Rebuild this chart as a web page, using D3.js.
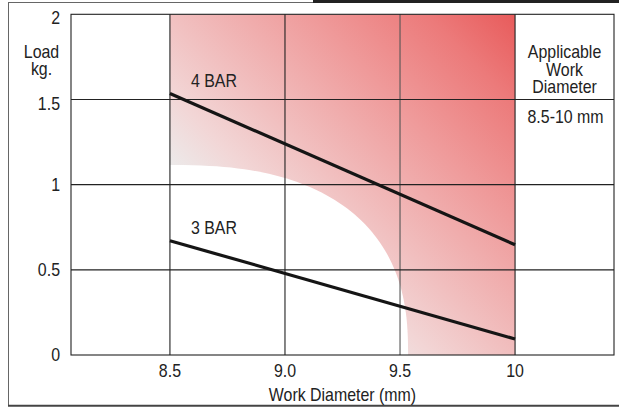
<!DOCTYPE html>
<html>
<head>
<meta charset="utf-8">
<script src="https://cdn.jsdelivr.net/npm/d3@7"></script>
<style>
  html, body { margin: 0; padding: 0; background: #fff; }
  svg { display: block; }
  text { font-family: "Liberation Sans", Arial, sans-serif; fill: #222; }
</style>
</head>
<body>
<svg id="chart" width="619" height="408"></svg>
<script>
// ---- data ----
const xTicks = [8.5, 9.0, 9.5, 10];
const xTickLabels = ["8.5", "9.0", "9.5", "10"];
const yTicks = [0, 0.5, 1, 1.5, 2];
const yTickLabels = ["0", "0.5", "1", "1.5", "2"];
const seriesNames = ["4 BAR", "3 BAR"];
const seriesX = [8.5, 10];
const bar4 = [1.535, 0.647];
const bar3 = [0.671, 0.094];
const applicableRange = [8.5, 10];
const applicableTitle = ["Applicable", "Work", "Diameter"];
const applicableValue = "8.5-10 mm";
const xTitle = "Work Diameter (mm)";
const yTitle = ["Load", "kg."];

// ---- layout ----
const W = 619, H = 408;
const svg = d3.select("#chart");
const plotL = 71, plotR = 614, plotT = 14.3, plotB = 355;
const x = d3.scaleLinear().domain([8.07, 10.43]).range([plotL, plotR]);
const y = d3.scaleLinear().domain([0, 2]).range([plotB, plotT]);
const fontSize = 17.5, squeeze = 0.91;

// condensed-looking text helper
function label(g, tx, ty, str, anchor) {
  return g.append("text")
    .attr("transform", `translate(${tx},${ty}) scale(${squeeze},1)`)
    .attr("text-anchor", anchor || "start")
    .attr("font-size", fontSize)
    .text(str);
}

// outer frame + top tab bar
svg.append("rect").attr("x", 8.5).attr("y", 2.5).attr("width", 640).attr("height", 403)
  .attr("fill", "none").attr("stroke", "#666").attr("stroke-width", 1);
svg.append("line").attr("x1", 8).attr("x2", W).attr("y1", 405.8).attr("y2", 405.8)
  .attr("stroke", "#444").attr("stroke-width", 2);
svg.append("rect").attr("x", 313).attr("y", 0).attr("width", W - 313).attr("height", 3)
  .attr("fill", "#222");

// plot background
svg.append("rect").attr("x", plotL).attr("y", plotT).attr("width", plotR - plotL).attr("height", plotB - plotT)
  .attr("fill", "#fff");

// gradient region for applicable diameter
const defs = svg.append("defs");
const grad = defs.append("linearGradient").attr("id", "rg").attr("gradientUnits", "userSpaceOnUse")
  .attr("x1", x(applicableRange[0])).attr("y1", y(0))
  .attr("x2", x(applicableRange[1])).attr("y2", y(2));
[[0, "#eeeeee"], [0.27, "#ecebeb"], [0.38, "#f2d6d6"], [0.5, "#f1bfbf"], [0.7, "#ef9a9a"], [0.87, "#ec7a7a"], [1, "#e85b5b"]]
  .forEach(([o, c]) => grad.append("stop").attr("offset", o).attr("stop-color", c));
defs.append("clipPath").attr("id", "regclip").append("rect")
  .attr("x", x(applicableRange[0])).attr("y", y(2))
  .attr("width", x(applicableRange[1]) - x(applicableRange[0])).attr("height", y(0) - y(2));

const reg = svg.append("g").attr("clip-path", "url(#regclip)");
reg.append("rect")
  .attr("x", x(applicableRange[0])).attr("y", y(2))
  .attr("width", x(applicableRange[1]) - x(applicableRange[0])).attr("height", y(0) - y(2))
  .attr("fill", "url(#rg)");
// white rounded cut-out at lower left (superellipse)
const cutRx = x(9.535) - x(8.5), cutRy = y(0) - y(1.115), n = 2.5;
const cutPts = [[0, 0]];
for (let i = 0; i <= 60; i++) {
  const t = (Math.PI / 2) * i / 60;
  const c = Math.cos(t), s = Math.sin(t);
  cutPts.push([cutRx * Math.pow(c, 2 / n), -cutRy * Math.pow(s, 2 / n)]);
}
reg.append("path")
  .attr("transform", `translate(${x(8.5)},${y(0)})`)
  .attr("d", d3.line()(cutPts) + "Z")
  .attr("fill", "#fff");

// grid
const grid = svg.append("g");
grid.selectAll("line.v").data(xTicks).join("line")
  .attr("x1", d => x(d)).attr("x2", d => x(d)).attr("y1", y(0)).attr("y2", y(2))
  .attr("stroke", (d, i) => i === 2 ? "#555" : "#222").attr("stroke-width", 1.1);
grid.selectAll("line.h").data(yTicks.filter(d => d > 0 && d < 2)).join("line")
  .attr("x1", plotL).attr("x2", plotR).attr("y1", d => y(d)).attr("y2", d => y(d))
  .attr("stroke", "#222").attr("stroke-width", 1.1);
svg.append("rect").attr("x", plotL).attr("y", plotT).attr("width", plotR - plotL).attr("height", plotB - plotT)
  .attr("fill", "none").attr("stroke", "#222").attr("stroke-width", 1.1);

// series lines
const line = d3.line().x((d, i) => x(seriesX[i])).y(d => y(d));
[bar4, bar3].forEach((s, k) => {
  svg.append("path").attr("d", line(s)).attr("fill", "none")
    .attr("stroke", "#151515").attr("stroke-width", 3.2);
  label(svg, x(seriesX[0]) + 21, y(s[0]) - 6.5, seriesNames[k]);
});

// axis tick labels
xTicks.forEach((d, i) => label(svg, x(d), plotB + 21.5, xTickLabels[i], "middle"));
const yNudge = { "2": 9.5, "1.5": 11 };
yTicks.forEach((d, i) => label(svg, 60, y(d) + (yNudge[yTickLabels[i]] ?? 6), yTickLabels[i], "end"));

// axis titles
label(svg, (plotL + plotR) / 2, 400.5, xTitle, "middle");
yTitle.forEach((t, i) => label(svg, 41.5, 58 + i * 17, t, "middle"));

// right-hand panel
const panelCx = (x(10) + plotR) / 2;
applicableTitle.forEach((t, i) => label(svg, panelCx, 58 + i * 17.5, t, "middle"));
label(svg, panelCx + 1, 122.5, applicableValue, "middle");
</script>
</body>
</html>
